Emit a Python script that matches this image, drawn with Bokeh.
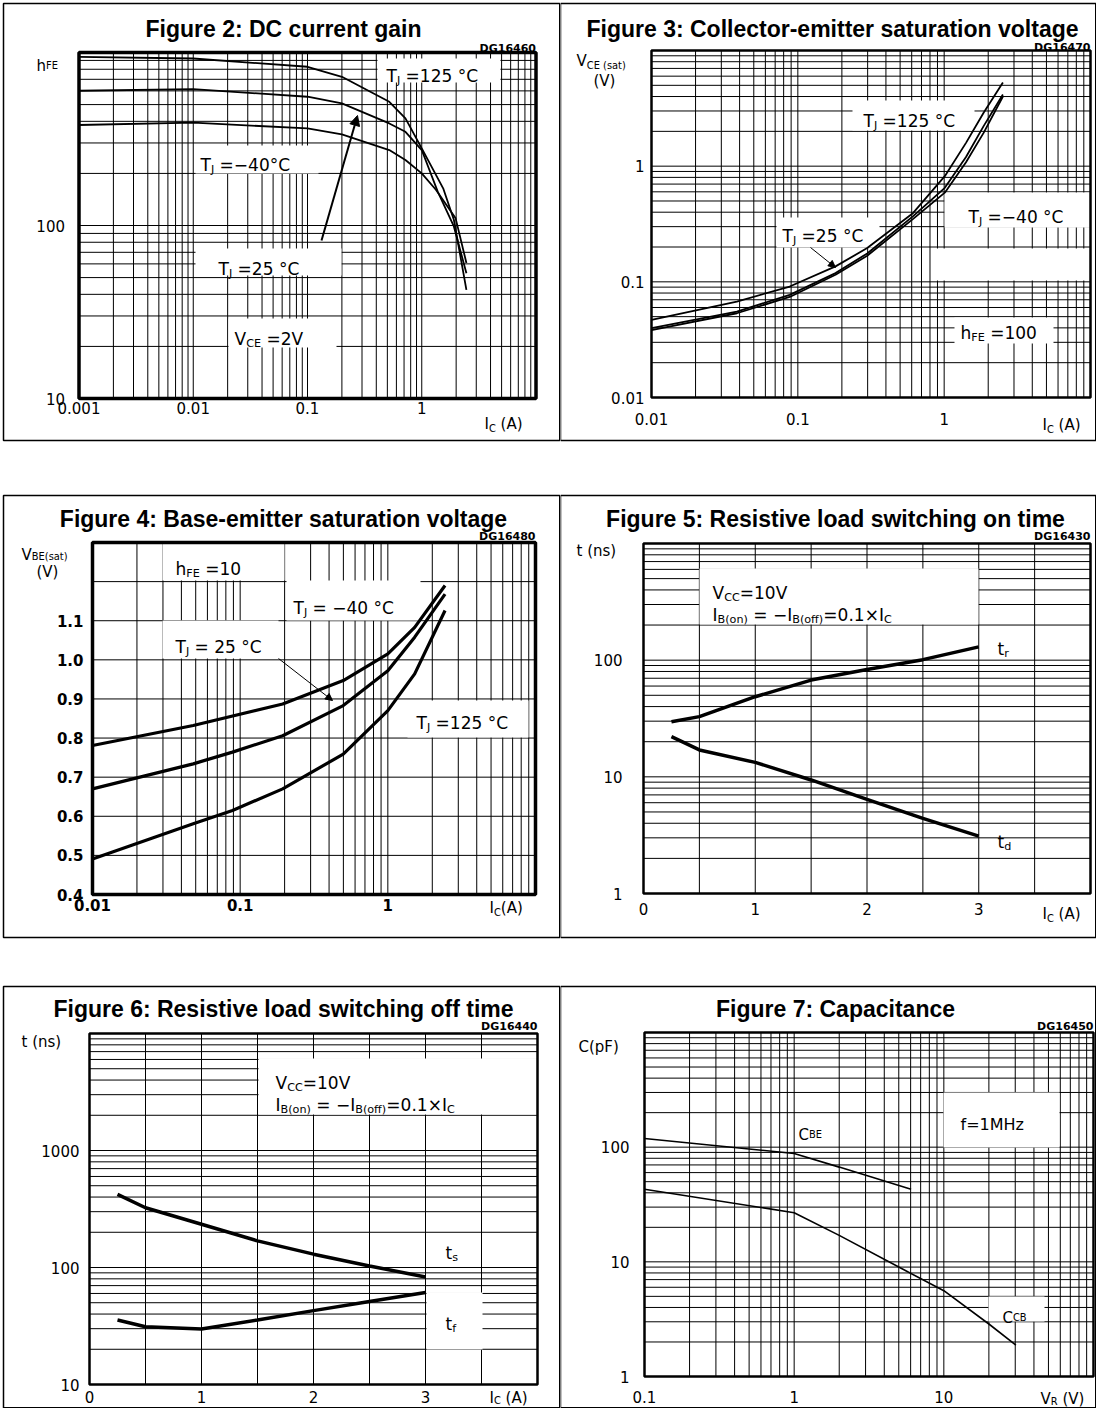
import math
from bokeh.plotting import figure
from bokeh.models import (Range1d, FixedTicker, CustomJSTickFormatter, Label,
                          Arrow, NormalHead)
from bokeh.layouts import column, row
from bokeh.embed import file_html
from bokeh.resources import INLINE

# ======================= DATA =======================
# Figure 2: DC current gain, hFE vs IC (A), VCE = 2 V
fig2_ic_125 = [0.001, 0.01, 0.1, 0.2, 0.52, 0.72, 1.0, 1.54, 1.91, 2.46]
fig2_hfe_125 = [944, 923, 827, 724, 519, 416, 279, 164, 108, 42.5]
fig2_ic_25 = [0.001, 0.01, 0.1, 0.2, 0.52, 0.72, 1.0, 1.38, 1.91, 2.46]
fig2_hfe_25 = [601, 614, 555, 508, 389, 348, 273, 157, 98.7, 53]
fig2_ic_m40 = [0.001, 0.01, 0.1, 0.2, 0.52, 0.72, 1.0, 1.33, 1.98, 2.46]
fig2_hfe_m40 = [381, 393, 364, 336, 273, 239, 200, 161, 110, 60.7]
fig2_xticks = [0.001, 0.01, 0.1, 1]
fig2_yticks = [10, 100]

# Figure 3: VCE(sat) (V) vs IC (A), hFE = 100
fig3_ic = [0.01, 0.0383, 0.088, 0.181, 0.298, 0.614, 1.01, 1.41, 1.86, 2.52]
fig3_vce_25 = [0.0468, 0.0675, 0.0911, 0.136, 0.196, 0.394, 0.819, 1.59, 2.90, 5.28]
fig3_vce_125 = [0.0397, 0.0553, 0.0772, 0.119, 0.176, 0.370, 0.650, 1.20, 2.22, 4.17]
fig3_vce_m40 = [0.0383, 0.0535, 0.0740, 0.115, 0.168, 0.350, 0.590, 1.08, 1.94, 4.00]
fig3_xticks = [0.01, 0.1, 1]
fig3_yticks = [0.01, 0.1, 1]

# Figure 4: VBE(sat) (V) vs IC (A), hFE = 10
fig4_ic_m40 = [0.01, 0.0481, 0.194, 0.499, 1.0, 1.52, 2.44]
fig4_vbe_m40 = [0.781, 0.832, 0.887, 0.947, 1.015, 1.083, 1.190]
fig4_ic = [0.01, 0.0481, 0.0887, 0.194, 0.499, 1.0, 1.52, 2.44]
fig4_vbe_25 = [0.670, 0.734, 0.764, 0.806, 0.883, 0.972, 1.058, 1.168]
fig4_vbe_125 = [0.491, 0.581, 0.615, 0.670, 0.759, 0.870, 0.964, 1.126]
fig4_xticks = [0.01, 0.1, 1]
fig4_yticks = [0.4, 0.5, 0.6, 0.7, 0.8, 0.9, 1.0, 1.1]

# Figure 5: switching on time t (ns) vs IC (A)
fig5_ic = [0.25, 0.5, 1.0, 1.5, 2.0, 2.5, 3.0]
fig5_tr = [29.7, 32.8, 48.6, 67.5, 83.2, 101, 130]
fig5_td = [22.1, 17.0, 13.3, 9.4, 6.4, 4.4, 3.1]
fig5_xticks = [0, 1, 2, 3]
fig5_yticks = [1, 10, 100]

# Figure 6: switching off time t (ns) vs IC (A)
fig6_ic = [0.25, 0.5, 1.0, 1.5, 2.0, 2.5, 3.0]
fig6_ts = [422, 324, 234, 169, 130, 103, 83]
fig6_tf = [35.6, 31.2, 29.8, 35.6, 42.8, 51.3, 61.2]
fig6_xticks = [0, 1, 2, 3]
fig6_yticks = [10, 100, 1000]

# Figure 7: capacitance C (pF) vs VR (V), f = 1 MHz
fig7_vr_be = [0.1, 1.0, 2.0, 6.04]
fig7_cbe = [119, 88, 67, 42.9]
fig7_vr_cb = [0.1, 1.0, 2.0, 5.0, 10.0, 20.0, 30.3]
fig7_ccb = [43, 26.8, 17.0, 9.0, 5.6, 2.87, 1.88]
fig7_xticks = [0.1, 1, 10]
fig7_yticks = [1, 10, 100]

# ======================= STYLE / LAYOUT =======================
FONT = "DejaVu Sans"
TITLE_FONT = "Liberation Sans"
CW = {' ': .318, '(': .390, ')': .390, '-': .361, '−': .838, '.': .318, ':': .337,
      '=': .838, '°': .500, '×': .838, 'A': .684, 'B': .686, 'C': .698, 'D': .770,
      'E': .632, 'F': .575, 'G': .775, 'H': .752, 'I': .295, 'J': .295, 'M': .863,
      'R': .695, 'T': .611, 'V': .684, 'a': .613, 'c': .550, 'd': .635, 'e': .615,
      'f': .352, 'h': .634, 'n': .634, 'o': .612, 'p': .635, 'r': .411, 's': .521,
      't': .392, 'z': .525}
for _d in "0123456789":
    CW[_d] = .636


def tw(s, size):
    return sum(CW.get(ch, .6) for ch in s) * size


def log_lines(lo, hi):
    vals = []
    e = int(math.floor(math.log10(lo) + 1e-9))
    while 10.0 ** e <= hi * 1.0001:
        for k in range(1, 10):
            v = k * 10.0 ** e
            if lo * 0.9999 <= v <= hi * 1.0001:
                vals.append(v)
        e += 1
    return vals


class Panel:
    def __init__(self, cell, area, xtype, xlim, ytype, ylim):
        self.cx0, self.cy0, self.W, self.H = cell
        self.L, self.R, self.T, self.B = area
        self.xtype, self.ytype = xtype, ytype
        self.xlim, self.ylim = xlim, ylim
        p = figure(width=self.W, height=self.H, x_axis_type=xtype, y_axis_type=ytype,
                   x_range=Range1d(self.fx(self.cx0), self.fx(self.cx0 + self.W)),
                   y_range=Range1d(self.fy(self.cy0 + self.H), self.fy(self.cy0)),
                   toolbar_location=None, output_backend="svg", title=None, min_border=0)
        p.outline_line_color = None
        p.grid.visible = False
        p.background_fill_color = "white"
        p.border_fill_color = "white"
        self.p = p

    def fx(self, px):
        f = (px - self.L) / (self.R - self.L)
        a, b = self.xlim
        if self.xtype == "log":
            a, b = math.log10(a), math.log10(b)
            return 10 ** (a + f * (b - a))
        return a + f * (b - a)

    def fy(self, py):
        f = (self.B - py) / (self.B - self.T)
        a, b = self.ylim
        if self.ytype == "log":
            a, b = math.log10(a), math.log10(b)
            return 10 ** (a + f * (b - a))
        return a + f * (b - a)

    def axes(self, xticks, yticks, xstand, ystand, yfmt="return tick.toString()", bold=False):
        xa, ya = self.p.xaxis[0], self.p.yaxis[0]
        for ax, ticks, st, fmt, loc in ((xa, xticks, xstand, "return tick.toString()", self.ylim[0]),
                                        (ya, yticks, ystand, yfmt, self.xlim[0])):
            ax.ticker = FixedTicker(ticks=ticks, minor_ticks=[])
            ax.formatter = CustomJSTickFormatter(code=fmt)
            ax.fixed_location = loc
            ax.major_tick_in = 0
            ax.major_tick_out = 0
            ax.minor_tick_in = 0
            ax.minor_tick_out = 0
            ax.axis_line_color = None
            ax.major_label_standoff = st
            ax.major_label_text_font = FONT
            ax.major_label_text_font_size = "15px"
            ax.major_label_text_color = "black"
            ax.major_label_text_font_style = "bold" if bold else "normal"

    def grid(self, xlines, ylines):
        x0, x1 = self.xlim
        y0, y1 = self.ylim
        self.p.segment(x0=xlines, x1=xlines, y0=[y0] * len(xlines), y1=[y1] * len(xlines),
                       line_color="black", line_width=1)
        self.p.segment(x0=[x0] * len(ylines), x1=[x1] * len(ylines), y0=ylines, y1=ylines,
                       line_color="black", line_width=1)

    def boxes(self, rects):
        if not rects:
            return
        self.p.quad(left=[self.fx(r[0]) for r in rects], right=[self.fx(r[1]) for r in rects],
                    top=[self.fy(r[2]) for r in rects], bottom=[self.fy(r[3]) for r in rects],
                    fill_color="white", line_color=None)

    def frame(self, width, outer):
        self.p.quad(left=self.xlim[0], right=self.xlim[1], bottom=self.ylim[0], top=self.ylim[1],
                    fill_color=None, line_color="black", line_width=width)
        l, r, t, b = outer
        self.p.quad(left=self.fx(l), right=self.fx(r), top=self.fy(t), bottom=self.fy(b),
                    fill_color=None, line_color="black", line_width=1.5)

    def arrow(self, start, end, width, head):
        self.p.add_layout(Arrow(x_start=self.fx(start[0]), y_start=self.fy(start[1]),
                                x_end=self.fx(end[0]), y_end=self.fy(end[1]),
                                line_width=width, line_color="black",
                                end=NormalHead(size=head, fill_color="black", line_color="black")))

    def text(self, x, y, s, size, font=FONT, style="normal", align="left"):
        self.p.add_layout(Label(x=self.fx(x), y=self.fy(y), text=s, text_font=font,
                                text_font_size=f"{size}px", text_font_style=style,
                                text_align=align, text_baseline="alphabetic",
                                text_color="black"))

    def rich(self, x, y, segs, size=16, drop=0.3):
        for t, kind in segs:
            s = size if kind == 'n' else round(size * 0.66, 1)
            yy = y + (size * drop if kind == 's' else 0)
            lead = len(t) - len(t.lstrip(' '))
            x += tw(' ' * lead, s)
            core = t.strip(' ')
            if core:
                self.text(x, yy, core, s)
            x += tw(core, s)
            trail = len(t) - len(t.rstrip(' '))
            x += tw(' ' * trail, s)

    def title(self, cx, y, s):
        self.text(cx, y, s, 23, font=TITLE_FONT, style="bold", align="center")

    def code(self, rx, y, s):
        self.text(rx, y, s, 11, style="bold", align="right")


def TJ(rest):
    return [("T", 'n'), ("J", 's'), (rest, 'n')]


# page cells (x0, width) / (y0, height); page pixel = reference pixel
COL_L = (0, 560)
COL_R = (560, 536)
ROW1 = (0, 467)
ROW2 = (467, 495)
ROW3 = (962, 446)


def cell(col, rw):
    return (col[0], rw[0], col[1], rw[1])


# ---------------- Figure 2 ----------------
P2 = Panel(cell(COL_L, ROW1), (78.5, 535.5, 52, 398), "log", (0.001, 10), "log", (10, 1000))
P2.axes(fig2_xticks, fig2_yticks, 3, 14)
P2.grid(log_lines(0.001, 10), log_lines(10, 1000))
P2.boxes([(377, 500, 58, 82), (195, 318, 145, 173), (195, 341, 248, 275), (228, 336, 318, 347)])
for xs, ys in ((fig2_ic_125, fig2_hfe_125), (fig2_ic_25, fig2_hfe_25), (fig2_ic_m40, fig2_hfe_m40)):
    P2.p.line(xs, ys, line_color="black", line_width=1.8)
P2.arrow((321, 240), (357, 115), 2, 10)
P2.frame(3.5, (3, 559.25, 3, 440))
P2.title(283, 28, "Figure 2: DC current gain")
P2.code(535.5, 48, "DG16460")
P2.rich(36, 65, [("h", 'n'), ("FE", 'c')], 15)
P2.rich(386, 75, TJ(" =125 °C"), 17)
P2.rich(200, 164, TJ(" =−40°C"), 17)
P2.rich(218, 268, TJ(" =25 °C"), 17)
P2.rich(234, 338, [("V", 'n'), ("CE", 's'), (" =2V", 'n')], 17)
P2.rich(484, 423, [("I", 'n'), ("C", 's'), (" (A)", 'n')], 15)

# ---------------- Figure 3 ----------------
P3 = Panel(cell(COL_R, ROW1), (651, 1090, 50, 397), "log", (0.01, 10), "log", (0.01, 10))
P3.axes(fig3_xticks, fig3_yticks, 15, 7)
P3.grid(log_lines(0.01, 10), log_lines(0.01, 10))
P3.boxes([(852, 974, 100, 130), (944, 1090, 192, 227), (776, 879, 217, 247),
          (931, 1090, 248, 280), (954, 1053, 317, 343)])
for ys in (fig3_vce_25, fig3_vce_125, fig3_vce_m40):
    P3.p.line(fig3_ic, ys, line_color="black", line_width=1.8)
P3.arrow((810, 247), (835, 267), 1, 7)
P3.frame(2.5, (560, 1095.25, 3, 440))
P3.title(832, 28, "Figure 3: Collector-emitter saturation voltage")
P3.code(1090, 47, "DG16470")
P3.rich(576, 60, [("V", 'n'), ("CE (sat)", 's')], 15)
P3.rich(593, 80, [("(V)", 'n')], 15)
P3.rich(863, 120, TJ(" =125 °C"), 17)
P3.rich(968, 216, TJ(" =−40 °C"), 17)
P3.rich(782, 235, TJ(" =25 °C"), 17)
P3.rich(960, 332, [("h", 'n'), ("FE", 's'), (" =100", 'n')], 17)
P3.rich(1042, 424, [("I", 'n'), ("C", 's'), (" (A)", 'n')], 15)

# ---------------- Figure 4 ----------------
P4 = Panel(cell(COL_L, ROW2), (92, 535, 542, 894), "log", (0.01, 10), "linear", (0.4, 1.3))
P4.axes(fig4_xticks, fig4_yticks, 4, 9, yfmt="return tick.toFixed(1)", bold=True)
P4.grid(log_lines(0.01, 10), [round(0.4 + 0.1 * i, 2) for i in range(10)])
P4.boxes([(162, 284, 542, 580), (286, 420, 580, 620), (162, 278, 620, 658), (407, 528, 700, 737)])
P4.p.line(fig4_ic_m40, fig4_vbe_m40, line_color="black", line_width=3.2)
P4.p.line(fig4_ic, fig4_vbe_25, line_color="black", line_width=3.2)
P4.p.line(fig4_ic, fig4_vbe_125, line_color="black", line_width=3.2)
P4.arrow((278, 658), (332, 700), 1, 7)
P4.frame(3.5, (3, 559.25, 495, 937))
P4.title(283, 518, "Figure 4: Base-emitter saturation voltage")
P4.code(535, 536, "DG16480")
P4.rich(21, 554, [("V", 'n'), ("BE(sat)", 's')], 15, drop=0.1)
P4.rich(36, 571, [("(V)", 'n')], 15)
P4.rich(175, 568, [("h", 'n'), ("FE", 's'), (" =10", 'n')], 17)
P4.rich(293, 607, TJ(" = −40 °C"), 17)
P4.rich(175, 646, TJ(" = 25 °C"), 17)
P4.rich(416, 722, TJ(" =125 °C"), 17)
P4.rich(489, 907, [("I", 'n'), ("C", 's'), ("(A)", 'n')], 15)

# ---------------- Figure 5 ----------------
P5 = Panel(cell(COL_R, ROW2), (643, 1090, 543, 893), "linear", (0, 4), "log", (1, 1000))
P5.axes(fig5_xticks, fig5_yticks, 9, 21)
P5.grid([0.5 * i for i in range(9)], log_lines(1, 1000))
P5.boxes([(699, 978, 568, 624)])
P5.p.line(fig5_ic, fig5_tr, line_color="black", line_width=3.5)
P5.p.line(fig5_ic, fig5_td, line_color="black", line_width=3.5)
P5.frame(2.5, (560, 1095.25, 495, 937))
P5.title(835, 518, "Figure 5: Resistive load switching on time")
P5.code(1090, 536, "DG16430")
P5.rich(576, 550, [("t (ns)", 'n')], 15)
P5.rich(712, 592, [("V", 'n'), ("CC", 's'), ("=10V", 'n')], 17)
P5.rich(712, 614, [("I", 'n'), ("B(on)", 's'), (" = −I", 'n'), ("B(off)", 's'),
                   ("=0.1×I", 'n'), ("C", 's')], 17)
P5.rich(997, 648, [("t", 'n'), ("r", 's')], 17)
P5.rich(997, 841, [("t", 'n'), ("d", 's')], 17)
P5.rich(1042, 913, [("I", 'n'), ("C", 's'), (" (A)", 'n')], 15)

# ---------------- Figure 6 ----------------
P6 = Panel(cell(COL_L, ROW3), (89, 537, 1033, 1384), "linear", (0, 4), "log", (10, 10000))
P6.axes(fig6_xticks, fig6_yticks, 6, 10)
P6.grid([0.5 * i for i in range(9)], log_lines(10, 10000))
P6.boxes([(258, 537, 1058, 1114), (426, 482, 1292, 1349)])
P6.p.line(fig6_ic, fig6_ts, line_color="black", line_width=3.5)
P6.p.line(fig6_ic, fig6_tf, line_color="black", line_width=3.5)
P6.frame(2.5, (3, 559.25, 986, 1407.25))
P6.title(283, 1008, "Figure 6: Resistive load switching off time")
P6.code(537, 1026, "DG16440")
P6.rich(21, 1041, [("t (ns)", 'n')], 15)
P6.rich(275, 1082, [("V", 'n'), ("CC", 's'), ("=10V", 'n')], 17)
P6.rich(275, 1104, [("I", 'n'), ("B(on)", 's'), (" = −I", 'n'), ("B(off)", 's'),
                    ("=0.1×I", 'n'), ("C", 's')], 17)
P6.rich(445, 1252, [("t", 'n'), ("s", 's')], 17)
P6.rich(445, 1323, [("t", 'n'), ("f", 's')], 17)
P6.rich(489, 1397, [("I", 'n'), ("C", 's'), (" (A)", 'n')], 15, drop=0.2)

# ---------------- Figure 7 ----------------
P7 = Panel(cell(COL_R, ROW3), (644, 1093, 1032, 1376), "log", (0.1, 100), "log", (1, 1000))
P7.axes(fig7_xticks, fig7_yticks, 14, 15)
P7.grid(log_lines(0.1, 100), log_lines(1, 1000))
P7.boxes([(943, 1059, 1092, 1147), (988, 1044, 1296, 1321)])
P7.p.line(fig7_vr_be, fig7_cbe, line_color="black", line_width=1.6)
P7.p.line(fig7_vr_cb, fig7_ccb, line_color="black", line_width=1.6)
P7.frame(2.5, (560, 1095.25, 986, 1407.25))
P7.title(835, 1008, "Figure 7: Capacitance")
P7.code(1093, 1026, "DG16450")
P7.rich(578, 1046, [("C(pF)", 'n')], 15)
P7.rich(798, 1134, [("C", 'n'), ("BE", 'c')], 15)
P7.rich(960, 1124, [("f=1MHz", 'n')], 16)
P7.rich(1002, 1317, [("C", 'n'), ("CB", 'c')], 15)
P7.rich(1040, 1398, [("V", 'n'), ("R", 's'), (" (V)", 'n')], 15, drop=0.2)

layout = column(row(P2.p, P3.p), row(P4.p, P5.p), row(P6.p, P7.p))
open("out.html", "w").write(file_html(layout, INLINE, title="Transistor characteristics"))
